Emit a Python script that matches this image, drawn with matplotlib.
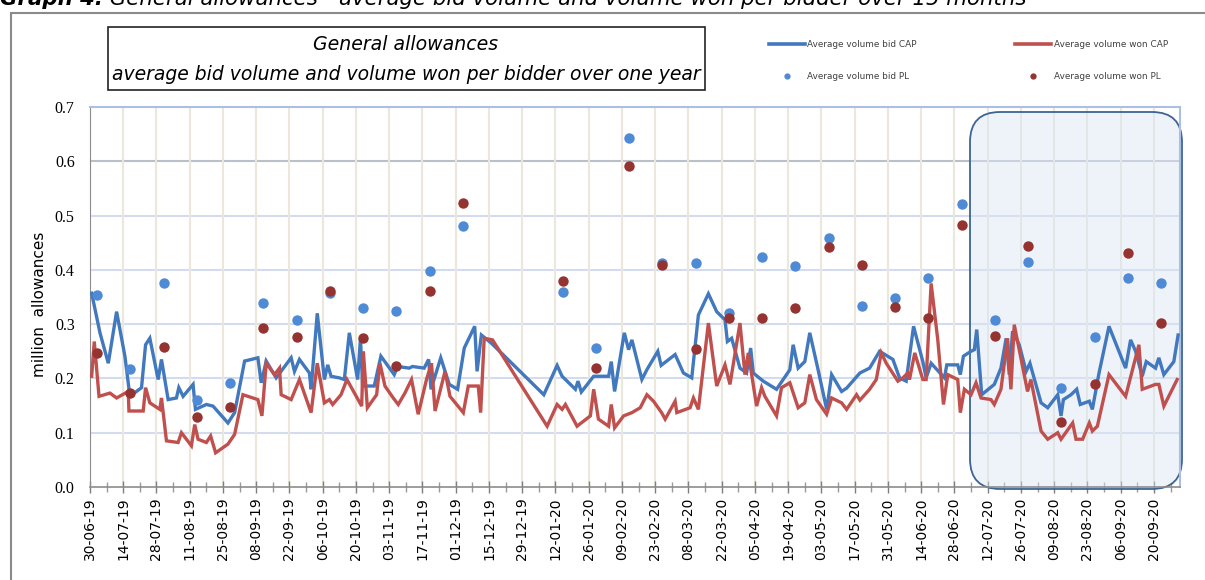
import numpy as np
import pandas as pd
import matplotlib
matplotlib.use("Agg")
import matplotlib.pyplot as plt
import matplotlib.dates as mdates
from matplotlib.patches import FancyBboxPatch, Rectangle
from matplotlib.lines import Line2D
from matplotlib.text import Annotation

# ---------------- data ----------------
start_date = "2019-06-30"

# CAP (common auction platform) - average volume bid, days after start_date
bid_cap_days = [0.7, 4.2, 7.7, 11.2, 14.7, 16.8, 21.7, 23.4, 25.2, 28.7, 30.1, 32.9, 36.4, 37.4, 39.2,
                43.4, 44.4, 49.0, 51.8, 58.1, 60.9, 65.1, 70.7, 72.1, 74.2, 78.4, 84.7, 86.1, 88.2,
                92.4, 93.1, 95.7, 98.7, 100.1, 101.5, 105.0, 107.1, 109.2, 112.7, 113.9, 114.8, 119.7,
                122.5, 128.1, 129.5, 134.4, 135.8, 140.7, 142.6, 143.6, 147.7, 151.3, 154.8, 157.6,
                162.0, 163.0, 164.8, 169.0, 191.1, 196.7, 198.8, 204.4, 205.5, 206.9, 212.1, 218.4,
                219.5, 220.9, 225.0, 226.8, 228.2, 232.4, 234.5, 239.1, 240.5, 246.4, 249.9, 253.4,
                256.2, 260.4, 263.9, 267.4, 268.4, 270.2, 273.7, 276.5, 278.2, 279.3, 283.5, 289.1,
                291.9, 294.7, 296.1, 298.2, 301.0, 303.1, 306.6, 310.2, 312.3, 316.5, 318.6, 324.2,
                328.3, 332.5, 338.1, 340.9, 343.7, 346.8, 350.7, 352.1, 354.2, 359.8, 360.8, 365.4,
                366.5, 367.8, 371.0, 372.4, 373.4, 375.5, 380.8, 383.6, 385.8, 387.1, 388.5, 391.3,
                394.2, 395.8, 400.5, 403.3, 407.5, 408.9, 409.9, 413.1, 415.5, 417.0, 420.8, 422.1,
                424.9, 429.1, 436.1, 438.2, 440.3, 443.1, 444.8, 448.7, 450.1, 452.2, 456.4, 458.2]
bid_cap_vals = [0.357, 0.284, 0.228, 0.323, 0.241, 0.167, 0.183, 0.262, 0.274, 0.198, 0.235, 0.161,
                0.164, 0.183, 0.167, 0.189, 0.143, 0.152, 0.149, 0.118, 0.137, 0.232, 0.238, 0.192,
                0.232, 0.201, 0.238, 0.213, 0.235, 0.210, 0.180, 0.320, 0.198, 0.225, 0.204, 0.201,
                0.198, 0.284, 0.198, 0.274, 0.186, 0.186, 0.241, 0.207, 0.222, 0.219, 0.222, 0.219,
                0.235, 0.180, 0.238, 0.189, 0.180, 0.256, 0.296, 0.213, 0.280, 0.265, 0.170, 0.224,
                0.204, 0.180, 0.195, 0.175, 0.204, 0.204, 0.231, 0.176, 0.284, 0.253, 0.271, 0.198,
                0.216, 0.250, 0.224, 0.244, 0.210, 0.201, 0.317, 0.356, 0.323, 0.308, 0.268, 0.274,
                0.219, 0.210, 0.256, 0.210, 0.195, 0.180, 0.198, 0.216, 0.262, 0.219, 0.231, 0.284,
                0.216, 0.143, 0.207, 0.176, 0.182, 0.210, 0.219, 0.250, 0.235, 0.201, 0.195, 0.296,
                0.231, 0.201, 0.228, 0.201, 0.225, 0.225, 0.207, 0.241, 0.250, 0.253, 0.290, 0.170,
                0.189, 0.219, 0.274, 0.207, 0.287, 0.262, 0.213, 0.228, 0.155, 0.146, 0.170, 0.131,
                0.161, 0.170, 0.180, 0.152, 0.158, 0.143, 0.210, 0.296, 0.219, 0.271, 0.250, 0.204,
                0.231, 0.219, 0.238, 0.207, 0.231, 0.280]

# CAP - average volume won
won_cap_days = [0.7, 1.8, 3.8, 8.4, 11.2, 16.1, 16.4, 22.4, 23.4, 25.2, 29.4, 30.1, 32.2, 37.1, 38.5,
                42.7, 44.1, 45.5, 49.0, 50.8, 52.9, 58.1, 60.9, 64.4, 70.7, 72.4, 74.2, 77.7, 79.8,
                80.5, 84.7, 88.2, 93.1, 95.7, 98.7, 100.8, 102.2, 105.7, 108.2, 114.4, 115.1, 116.8,
                120.7, 122.1, 124.2, 127.7, 129.8, 132.6, 135.4, 138.2, 141.7, 143.8, 145.3, 149.5,
                151.6, 157.2, 159.3, 163.5, 164.5, 166.0, 169.5, 192.5, 196.7, 198.8, 200.2, 205.1,
                210.7, 212.1, 214.1, 218.4, 219.5, 220.9, 224.7, 228.2, 231.7, 234.5, 237.3, 240.7,
                242.2, 246.4, 247.1, 252.7, 254.1, 256.2, 260.4, 263.9, 267.4, 269.5, 273.7, 275.8,
                277.2, 280.7, 282.8, 284.2, 289.1, 291.2, 294.7, 298.2, 301.0, 303.1, 305.9, 310.2,
                312.3, 316.5, 318.6, 322.8, 324.2, 328.3, 331.1, 333.2, 335.3, 340.2, 342.3, 344.4,
                345.1, 347.3, 350.7, 352.1, 354.2, 357.0, 359.4, 361.2, 365.4, 366.5, 368.2, 371.0,
                373.1, 375.2, 379.4, 380.8, 383.6, 386.4, 387.8, 389.2, 391.3, 394.8, 396.2, 400.5,
                403.3, 407.5, 408.9, 413.8, 415.2, 418.0, 420.8, 422.1, 424.2, 429.1, 436.1, 441.7,
                443.1, 448.7, 450.1, 452.2, 457.8]
won_cap_vals = [0.204, 0.268, 0.167, 0.173, 0.164, 0.176, 0.140, 0.140, 0.183, 0.155, 0.143, 0.164,
                0.085, 0.082, 0.100, 0.076, 0.115, 0.088, 0.082, 0.094, 0.063, 0.079, 0.097, 0.170,
                0.161, 0.131, 0.228, 0.207, 0.219, 0.170, 0.161, 0.198, 0.137, 0.228, 0.155, 0.161,
                0.152, 0.170, 0.198, 0.149, 0.250, 0.146, 0.170, 0.228, 0.186, 0.164, 0.152, 0.173,
                0.198, 0.134, 0.198, 0.228, 0.140, 0.213, 0.167, 0.137, 0.186, 0.186, 0.137, 0.274,
                0.271, 0.112, 0.152, 0.143, 0.152, 0.112, 0.131, 0.180, 0.125, 0.112, 0.152, 0.109,
                0.131, 0.137, 0.146, 0.170, 0.158, 0.137, 0.125, 0.158, 0.137, 0.146, 0.164, 0.143,
                0.302, 0.186, 0.225, 0.189, 0.302, 0.207, 0.247, 0.149, 0.183, 0.167, 0.131, 0.183,
                0.192, 0.146, 0.155, 0.207, 0.161, 0.134, 0.164, 0.155, 0.143, 0.170, 0.160, 0.180,
                0.198, 0.247, 0.228, 0.195, 0.201, 0.210, 0.198, 0.247, 0.198, 0.198, 0.375, 0.271,
                0.152, 0.207, 0.198, 0.137, 0.180, 0.170, 0.192, 0.164, 0.161, 0.152, 0.180, 0.274,
                0.180, 0.299, 0.253, 0.176, 0.198, 0.103, 0.088, 0.100, 0.088, 0.118, 0.088, 0.088,
                0.118, 0.103, 0.112, 0.207, 0.167, 0.262, 0.180, 0.189, 0.189, 0.149, 0.198]

# PL (Polish auctions) - bi-weekly
pl_dates = ["2019-07-03", "2019-07-17", "2019-07-31", "2019-08-14", "2019-08-28", "2019-09-11",
            "2019-09-25", "2019-10-09", "2019-10-23", "2019-11-06", "2019-11-20", "2019-12-04",
            "2020-01-15", "2020-01-29", "2020-02-12", "2020-02-26", "2020-03-11", "2020-03-25",
            "2020-04-08", "2020-04-22", "2020-05-06", "2020-05-20", "2020-06-03", "2020-06-17",
            "2020-07-01", "2020-07-15", "2020-07-29", "2020-08-12", "2020-08-26", "2020-09-09",
            "2020-09-23"]
bid_pl_vals = [0.354, 0.217, 0.376, 0.160, 0.192, 0.339, 0.308, 0.357, 0.330, 0.324, 0.398, 0.481,
               0.359, 0.256, 0.643, 0.413, 0.413, 0.320, 0.424, 0.407, 0.459, 0.333, 0.348, 0.385,
               0.521, 0.308, 0.414, 0.182, 0.276, 0.385, 0.376]
won_pl_vals = [0.247, 0.173, 0.258, 0.129, 0.147, 0.293, 0.276, 0.361, 0.274, 0.223, 0.361, 0.523,
               0.379, 0.219, 0.591, 0.409, 0.254, 0.311, 0.311, 0.330, 0.442, 0.409, 0.331, 0.311,
               0.483, 0.278, 0.444, 0.120, 0.190, 0.431, 0.302]

x_tick_start = "2019-06-30"
x_tick_end = "2020-09-20"
x_end = "2020-10-01"
y_ticks = [0.0, 0.1, 0.2, 0.3, 0.4, 0.5, 0.6, 0.7]

legend_labels = ["Average volume bid CAP", "Average volume bid PL",
                 "Average volume won CAP", "Average volume won PL"]
box_line1 = "General allowances"
box_line2 = "average bid volume and volume won per bidder over one year"
y_label = "million  allowances"
heading_bold = "Graph 4:"
heading_rest = " General allowances - average bid volume and volume won per bidder over 15 months"

# ---------------- plot ----------------
base = pd.Timestamp(start_date)
bid_x = base + pd.to_timedelta(bid_cap_days, unit="D")
won_x = base + pd.to_timedelta(won_cap_days, unit="D")
pl_x = pd.to_datetime(pl_dates)

BLUE = "#4178be"
RED = "#c0504d"
BLUE_DOT = "#4f8ad6"
RED_DOT = "#953330"

fig = plt.figure(figsize=(12.05, 5.8), dpi=100)
ax = fig.add_axes([90 / 1205, 1 - 487 / 580, 1090 / 1205, 380 / 580])

ax.plot(bid_x, bid_cap_vals, color=BLUE, lw=2.4, zorder=3, solid_joinstyle="miter")
ax.plot(won_x, won_cap_vals, color=RED, lw=2.4, zorder=3, solid_joinstyle="miter")
ax.plot(pl_x, bid_pl_vals, "o", color=BLUE_DOT, ms=7.5, mec="none", zorder=4)
ax.plot(pl_x, won_pl_vals, "o", color=RED_DOT, ms=7.5, mec="none", zorder=4)

ax.set_xlim(pd.Timestamp(x_tick_start), pd.Timestamp(x_end))
ax.set_ylim(0, 0.7)

major = pd.date_range(x_tick_start, x_tick_end, freq="14D")
minor = pd.date_range(x_tick_start, x_end, freq="7D")
ax.xaxis.set_major_locator(matplotlib.ticker.FixedLocator(mdates.date2num(major)))
ax.xaxis.set_minor_locator(matplotlib.ticker.FixedLocator(mdates.date2num(minor)))
ax.xaxis.set_major_formatter(mdates.DateFormatter("%d-%m-%y"))
ax.set_yticks(y_ticks)
ax.yaxis.set_major_formatter(matplotlib.ticker.FormatStrFormatter("%.1f"))

for lab in ax.get_xticklabels():
    lab.set_rotation(90)
    lab.set_fontsize(10)
    lab.set_family("DejaVu Sans")
for lab in ax.get_yticklabels():
    lab.set_fontsize(11.5)
    lab.set_family("Liberation Serif")

ax.tick_params(axis="x", which="major", direction="inout", length=9, width=1, color="#7f7f7f", pad=3)
ax.tick_params(axis="x", which="minor", direction="inout", length=7, width=1, color="#9a9a9a")
ax.tick_params(axis="y", length=0, pad=11)

# gridlines
for yv in y_ticks[1:-1]:
    ax.axhline(yv, color="#b9c0ca" if abs(yv - 0.6) < 1e-9 else "#d3dcee", lw=1.5, zorder=1)
for xv in major[1:]:
    ax.axvline(xv, color="#ebe7da", lw=1.5, zorder=1)

for s in ["top", "right"]:
    ax.spines[s].set_color("#a9c0e3")
    ax.spines[s].set_linewidth(1.5)
ax.spines["left"].set_color("#8c8c8c")
ax.spines["bottom"].set_color("#8c8c8c")
ax.spines["bottom"].set_linewidth(1.2)

ax.set_ylabel(y_label, fontsize=11, family="DejaVu Sans")
ax.yaxis.set_label_coords(-0.0395, 0.48)

# highlighted region (rounded box)
Wp, Hp = 1090.0, 380.0
box = FancyBboxPatch((880 / Wp, -2 / Hp), 212 / Wp, 377 / Hp,
                     boxstyle="round,pad=0,rounding_size=%f" % (30 / Wp),
                     mutation_aspect=Wp / Hp, transform=ax.transAxes,
                     facecolor=(0.86, 0.9, 0.96, 0.45), edgecolor="#3e6394", lw=1.3,
                     clip_on=False, zorder=2)
ax.add_patch(box)

# title box
fig.patches.append(Rectangle((108 / 1205, 1 - 90 / 580), 597 / 1205, 63 / 580,
                             transform=fig.transFigure, fill=False, edgecolor="#222222", lw=1.2))
fig.text(406 / 1205, 1 - 45 / 580, box_line1, ha="center", va="center",
         fontsize=13.6, style="italic", family="DejaVu Sans")
fig.text(406 / 1205, 1 - 74 / 580, box_line2,
         ha="center", va="center", fontsize=13.5, style="italic", family="DejaVu Sans")

# outer frame
fig.patches.append(Rectangle((11 / 1205, -0.1), 1.2, 1.1 - 13 / 580, transform=fig.transFigure,
                             fill=False, edgecolor="#8a8a8a", lw=1.5))

# cut page heading (partly above the page edge, as in the source)
h1 = fig.text(0.0, 1 - 5 / 580, heading_bold, ha="left", va="baseline", fontsize=15.3,
              style="italic", weight="bold", family="DejaVu Sans")
fig.add_artist(Annotation(heading_rest, xy=(1, 0), xycoords=h1, ha="left", va="bottom",
                          fontsize=15.3, style="italic", family="DejaVu Sans"))

# legend
handles = [Line2D([], [], color=BLUE, lw=2.6),
           Line2D([], [], ls="none", marker="o", color=BLUE_DOT, ms=3.5),
           Line2D([], [], color=RED, lw=2.6),
           Line2D([], [], ls="none", marker="o", color=RED_DOT, ms=3.5)]
leg = fig.legend(handles, legend_labels, ncol=2, loc="upper left",
                 bbox_to_anchor=(769 / 1205, 1 - 40 / 580), frameon=False,
                 fontsize=6.4, handlelength=4.05, handletextpad=0.25, columnspacing=11.1,
                 labelspacing=2.6, borderaxespad=0, borderpad=0)
for t in leg.get_texts():
    t.set_color("#404040")

fig.savefig("out.png", dpi=100)
